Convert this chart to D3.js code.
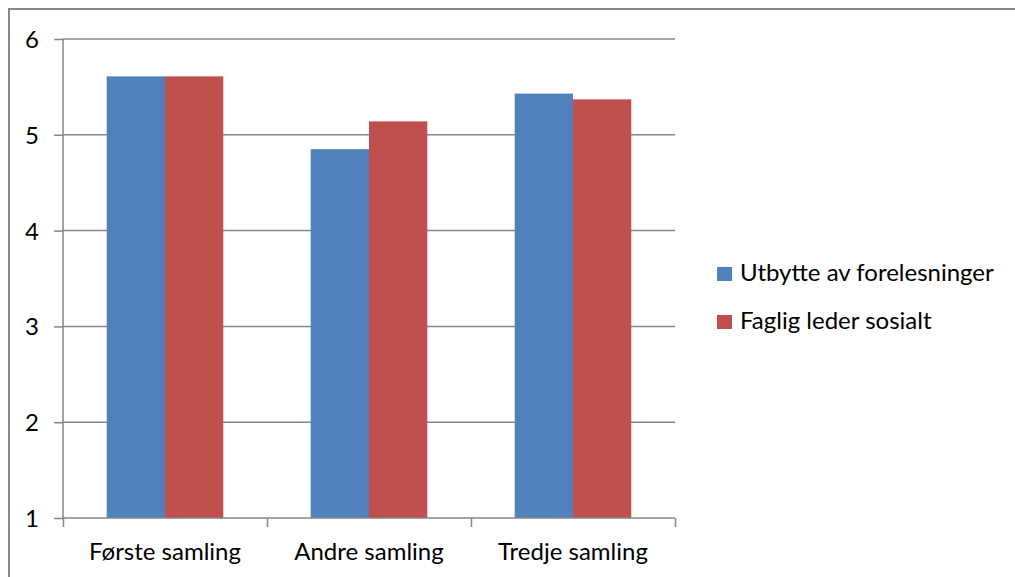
<!doctype html>
<html>
<head>
<meta charset="utf-8">
<script src="https://d3js.org/d3.v7.min.js"></script>
<style>
    body { margin: 0; background: #fff; }
    text { font-family: Lato, "Open Sans", sans-serif; fill: #000; }
    .grid line { stroke: #868686; stroke-width: 1.5px; }
    .axis path, .axis line { stroke: #868686; stroke-width: 1.5px; }
</style>
</head>
<body>
<script>
    // data
    var categories = ["Første samling", "Andre samling", "Tredje samling"];
    var series = ["Utbytte av forelesninger", "Faglig leder sosialt"];
    var utbytte = [5.61, 4.85, 5.43];
    var faglig = [5.61, 5.14, 5.37];
    var yTicks = [1, 2, 3, 4, 5, 6];
    var colors = ["#4F81BD", "#C0504D"];

    var values = [utbytte, faglig];

    var W = 1015, H = 577;
    var margin = {top: 39, left: 63, right: 340, bottom: 59};
    var width = W - margin.left - margin.right,
        height = H - margin.top - margin.bottom;

    var svg = d3.select("body").append("svg")
        .attr("width", W)
        .attr("height", H);

    // outer frame (only top and left visible)
    svg.append("path")
        .attr("d", "M9,577 V9 H1015")
        .attr("fill", "none")
        .attr("stroke", "#868686")
        .attr("stroke-width", 2);

    var g = svg.append("g")
        .attr("transform", "translate(" + margin.left + "," + margin.top + ")");

    var y = d3.scaleLinear().domain([1, 6]).range([height, 0]);

    var x0 = d3.scaleBand().domain(categories).range([0, width]).padding(0);
    var bw = x0.bandwidth();
    var x1 = d3.scaleBand().domain(series)
        .range([bw * 0.75 / 3.5, bw * 2.75 / 3.5]);

    // gridlines
    g.append("g")
        .attr("class", "grid")
        .selectAll("line")
        .data(yTicks.slice(1))
        .enter().append("line")
        .attr("x1", 0)
        .attr("x2", width)
        .attr("y1", function (d) { return y(d); })
        .attr("y2", function (d) { return y(d); });

    // bars
    g.append("g")
        .selectAll("g")
        .data(categories)
        .enter().append("g")
        .attr("transform", function (d) { return "translate(" + x0(d) + ",0)"; })
        .selectAll("rect")
        .data(function (d, i) {
            return series.map(function (s, j) { return {s: s, v: values[j][i], c: colors[j]}; });
        })
        .enter().append("rect")
        .attr("x", function (d) { return x1(d.s); })
        .attr("width", x1.bandwidth())
        .attr("y", function (d) { return y(d.v); })
        .attr("height", function (d) { return y(1) - y(d.v); })
        .attr("fill", function (d) { return d.c; });

    // y axis
    var yAxis = g.append("g")
        .attr("class", "axis")
        .call(d3.axisLeft(y).tickValues(yTicks).tickSize(9).tickPadding(15).tickFormat(d3.format("d")));
    yAxis.select(".domain").attr("d", "M0," + height + "V0");
    yAxis.selectAll("text").style("font-size", "24px").attr("dy", "0.35em");

    // x axis, ticks on category boundaries
    var xb = d3.scaleLinear().domain([0, categories.length]).range([0, width]);
    var xAxis = g.append("g")
        .attr("class", "axis")
        .attr("transform", "translate(0," + height + ")")
        .call(d3.axisBottom(xb).ticks(3).tickSize(9).tickFormat(""));
    xAxis.select(".domain").attr("d", "M0,0H" + width);

    g.append("g")
        .selectAll("text")
        .data(categories)
        .enter().append("text")
        .attr("x", function (d) { return x0(d) + bw / 2; })
        .attr("y", height + 42)
        .attr("text-anchor", "middle")
        .style("font-size", "24px")
        .text(function (d) { return d; });

    // legend
    var legend = svg.append("g")
        .attr("transform", "translate(717,267)");
    var item = legend.selectAll("g")
        .data(series)
        .enter().append("g")
        .attr("transform", function (d, i) { return "translate(0," + (i * 48) + ")"; });
    item.append("rect")
        .attr("width", 15)
        .attr("height", 14)
        .attr("fill", function (d, i) { return colors[i]; });
    item.append("text")
        .attr("x", 23)
        .attr("y", 14)
        .style("font-size", "24px")
        .text(function (d) { return d; });
</script>
</body>
</html>
